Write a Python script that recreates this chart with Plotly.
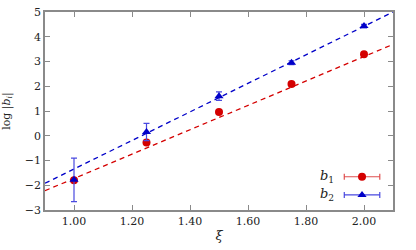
import plotly.graph_objects as go

# data
xi = [1.00, 1.25, 1.50, 1.75, 2.00]
b1 = [-1.80, -0.27, 0.96, 2.09, 3.29]
b1_err = [0.05, 0.05, 0.05, 0.05, 0.05]
b2 = [-1.78, 0.15, 1.60, 2.95, 4.43]
b2_err = [0.88, 0.35, 0.17, 0.08, 0.07]
fit_x = [0.9, 2.1]
fit_b1 = [-2.22, 3.69]
fit_b2 = [-1.92, 5.00]
x_ticks = [1.0, 1.2, 1.4, 1.6, 1.8, 2.0]
y_ticks = [-3, -2, -1, 0, 1, 2, 3, 4, 5]

RED = "#d40000"
BLUE = "#0000c8"
RED_E = "#e05050"
BLUE_E = "#4a4ae0"
FONT = "DejaVu Serif"
AX = "#8a8a8a"
TXT = "#222222"

fig = go.Figure()
fig.add_trace(go.Scatter(x=fit_x, y=fit_b1, mode="lines",
                         line=dict(color=RED, width=1.3, dash="5px,4px"), showlegend=False))
fig.add_trace(go.Scatter(x=fit_x, y=fit_b2, mode="lines",
                         line=dict(color=BLUE, width=1.3, dash="5px,4px"), showlegend=False))
fig.add_trace(go.Scatter(x=xi, y=b1, mode="markers",
                         marker=dict(symbol="circle", size=8, color=RED),
                         error_y=dict(type="data", array=b1_err, color=RED_E, thickness=1.2, width=3),
                         showlegend=False))
fig.add_trace(go.Scatter(x=xi, y=b2, mode="markers",
                         marker=dict(symbol="triangle-up", size=8, color=BLUE),
                         error_y=dict(type="data", array=b2_err, color=BLUE_E, thickness=1.2, width=3),
                         showlegend=False))

# legend samples on an overlay axis (0..1 over the plot area)
fig.add_trace(go.Scatter(x=[0.911], y=[0.168], xaxis="x2", yaxis="y2", mode="markers",
                         marker=dict(symbol="circle", size=8, color=RED),
                         error_x=dict(type="constant", value=0.051, color=RED_E, thickness=1.2, width=3),
                         showlegend=False, hoverinfo="skip"))
fig.add_trace(go.Scatter(x=[0.911], y=[0.076], xaxis="x2", yaxis="y2", mode="markers",
                         marker=dict(symbol="triangle-up", size=8, color=BLUE),
                         error_x=dict(type="constant", value=0.051, color=BLUE_E, thickness=1.2, width=3),
                         showlegend=False, hoverinfo="skip"))

axis_common = dict(showline=True, linecolor=AX, linewidth=1.5, mirror="ticks",
                   ticks="inside", ticklen=5, tickcolor=AX, tickwidth=1,
                   showgrid=False, zeroline=False, automargin=False,
                   tickfont=dict(family=FONT, size=11, color=TXT))

fig.update_layout(
    width=416, height=250,
    margin=dict(l=45, r=23, t=12, b=40),
    plot_bgcolor="white", paper_bgcolor="white",
    font=dict(family=FONT, size=11, color=TXT),
    xaxis=dict(range=[0.9, 2.1], tickvals=x_ticks, ticktext=[f"{v:.2f}" for v in x_ticks],
               title=dict(text="<i>ξ</i>", font=dict(family=FONT, size=13, color=TXT), standoff=4),
               **axis_common),
    yaxis=dict(range=[-3, 5], tickvals=y_ticks,
               title=dict(text="log |<i>b<sub>i</sub></i>|", font=dict(family=FONT, size=11, color=TXT), standoff=12),
               **axis_common),
    xaxis2=dict(range=[0, 1], overlaying="x", visible=False, fixedrange=True),
    yaxis2=dict(range=[0, 1], overlaying="y", visible=False, fixedrange=True),
    annotations=[
        dict(x=0.835, y=0.168, xref="paper", yref="paper", xanchor="right", yanchor="middle",
             text="<i>b</i><sub>1</sub>", showarrow=False, font=dict(family=FONT, size=13, color=TXT)),
        dict(x=0.835, y=0.076, xref="paper", yref="paper", xanchor="right", yanchor="middle",
             text="<i>b</i><sub>2</sub>", showarrow=False, font=dict(family=FONT, size=13, color=TXT)),
    ],
)

fig.write_html("out.html", config={"displayModeBar": False},
               post_script="document.body.style.margin='0';document.body.style.overflow='hidden';")
